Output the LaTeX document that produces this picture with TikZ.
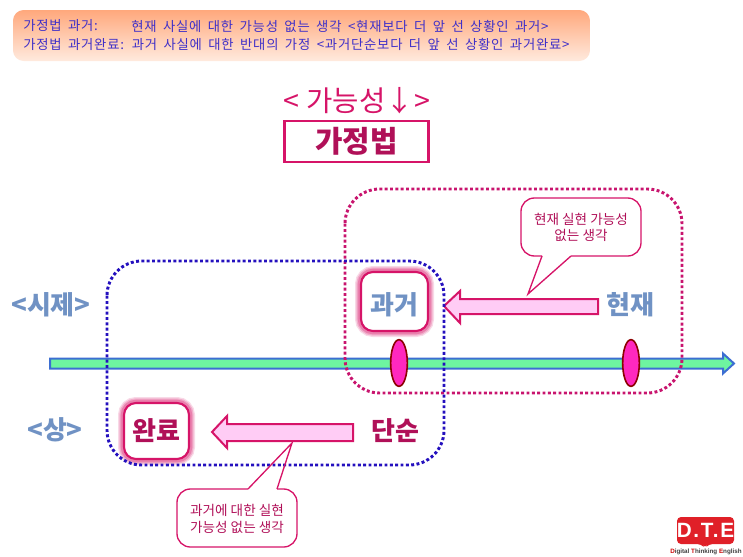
\documentclass[tikz,border=0pt]{standalone}
\usepackage{fontspec}
\usetikzlibrary{shapes.geometric}
\setmainfont{Noto Sans CJK KR}
\newfontfamily\notefont[LetterSpace=6,WordSpace=1.7]{Noto Sans CJK KR}
\newfontfamily\logofont{Liberation Sans}
\newfontfamily\logobigfont[LetterSpace=8]{Liberation Sans}
\definecolor{noteblue}{RGB}{64,48,200}
\definecolor{rosered}{RGB}{214,20,104}
\definecolor{wine}{RGB}{176,16,88}
\definecolor{steel}{RGB}{112,146,196}
\definecolor{dotpink}{RGB}{200,20,110}
\definecolor{dotblue}{RGB}{36,16,190}
\definecolor{notetop}{RGB}{255,168,124}
\definecolor{notebottom}{RGB}{255,234,222}
\definecolor{arrowfill}{RGB}{255,204,245}
\definecolor{markfill}{RGB}{255,40,190}
\tikzset{
  notetext/.style={anchor=west,inner sep=0,text=noteblue,font=\notefont\fontsize{10}{10}\selectfont},
  tensetext/.style={inner sep=0,text=steel,font=\fontsize{19.5}{19.5}\selectfont\bfseries},
  aspecttext/.style={inner sep=0,text=wine,font=\fontsize{19.5}{19.5}\selectfont\bfseries},
  calltext/.style={align=center,inner sep=0,text=wine,font=\fontsize{10.2}{12.5}\selectfont},
  dotbox/.style={line width=2.2pt,dash pattern=on 2.2pt off 1.8pt,rounded corners=26},
  blockarrow/.style={draw=rosered,fill=arrowfill,line width=1.5pt,line join=miter},
  mark dot/.style={draw=red!55!black,fill=markfill,line width=1.2pt},
}
\begin{document}
\begin{tikzpicture}[x=0.75pt,y=0.75pt,yscale=-1,xscale=1]
\useasboundingbox (0,0) rectangle (743,557);

%Note box
\shade [top color=notetop,bottom color=notebottom,rounded corners=8] (13,10) rectangle (590,61);
\draw (23,26) node (noteA) [notetext] {가정법 과거:};
\draw (131,26) node (noteB) [notetext] {현재 사실에 대한 가능성 없는 생각 <현재보다 더 앞 선 상황인 과거>};
\draw (23,44) node (noteC) [notetext] {가정법 과거완료: 과거 사실에 대한 반대의 가정 <과거단순보다 더 앞 선 상황인 과거완료>};

%Title
\draw (357,101) node (chance) [inner sep=0,text=rosered,font=\fontsize{21.5}{21.5}\selectfont] {< 가능성↓>};
\draw (356.5,141.5) node (mood) [draw=rosered,line width=1.8pt,minimum width=108pt,minimum height=31pt,inner sep=0,text=wine,font=\fontsize{22.4}{22.4}\selectfont\bfseries] {가정법};

%Time line
\draw [draw={rgb,255:red,60;green,110;blue,210},fill={rgb,255:red,110;green,245;blue,160},line width=1.5pt] (50,358.5) -- (723,358.5) -- (723,353.5) -- (734,363.5) -- (723,373.5) -- (723,368.5) -- (50,368.5) -- cycle;
\draw (399,363) node (pastdot) [mark dot,ellipse,minimum width=12.5pt,minimum height=35pt,inner sep=0] {};
\draw (631,363) node (presentdot) [mark dot,ellipse,minimum width=12.5pt,minimum height=35pt,inner sep=0] {};

%Glow round the two boxes
\foreach \w/\o in {9/0.16,7/0.22,5/0.3}{
  \draw [rosered,line width=\w pt,opacity=\o,rounded corners=9] (361,272) rectangle (428,331);
  \draw [rosered,line width=\w pt,opacity=\o,rounded corners=9] (124,403) rectangle (189,459);
}
\draw [rosered,line width=1.6pt,fill=white,rounded corners=9] (361,272) rectangle (428,331);
\draw [rosered,line width=1.6pt,fill=white,rounded corners=9] (124,403) rectangle (189,459);

%Block arrows
\draw [blockarrow] (598,299) -- (460,299) -- (460,291) -- (444,306) -- (460,323) -- (460,314) -- (598,314) -- cycle;
\draw [blockarrow] (353,424) -- (227,424) -- (227,416) -- (212,432) -- (227,448) -- (227,441) -- (353,441) -- cycle;

%Dotted frames
\draw [dotbox,dotpink] (345,189) rectangle (682,393);
\draw [dotbox,dotblue] (107,261) rectangle (444,465);

%Callouts
\draw [rosered,line width=1pt,fill=white,rounded corners=0] (542,256) -- (528,294) -- (571,256);
\draw [rosered,line width=1pt,rounded corners=10] (571,256) -- (641,256) -- (641,198) -- (521,198) -- (521,256) -- (542,256);
\draw [rosered,line width=1pt] (248,489) -- (292,443) -- (277,489);
\draw [rosered,line width=1pt,rounded corners=10] (277,489) -- (297,489) -- (297,547) -- (177,547) -- (177,489) -- (248,489);
\draw (581,227.5) node (callA) [calltext] {현재 실현 가능성\\없는 생각};
\draw (237,519) node (callB) [calltext] {과거에 대한 실현\\가능성 없는 생각};

%Row labels and words
\draw (51,305) node (tense) [tensetext] {<시제>};
\draw (55,430) node (aspect) [tensetext] {<상>};
\draw (394,305) node (past) [tensetext] {과거};
\draw (630,305) node (present) [tensetext] {현재};
\draw (156,431) node (perfect) [aspecttext] {완료};
\draw (395,431) node (simple) [aspecttext] {단순};

%Logo
\draw [fill={rgb,255:red,224;green,32;blue,40},draw=none,rounded corners=3] (677,517) -- (734,517) -- (734,544) -- (709,544) -- (705,548) -- (701,544) -- (677,544) -- cycle;
\draw (705.5,530.5) node (logo) [inner sep=0,text=white,font=\logobigfont\fontsize{15.5}{15.5}\selectfont\bfseries] {D.T.E};
\draw (706,552) node (logotext) [inner sep=0,text=black!75,font=\logofont\fontsize{4.7}{4.7}\selectfont\bfseries] {\textcolor{red!80!black}{D}igital \textcolor{red!80!black}{T}hinking \textcolor{red!80!black}{E}nglish};
\end{tikzpicture}
\end{document}
